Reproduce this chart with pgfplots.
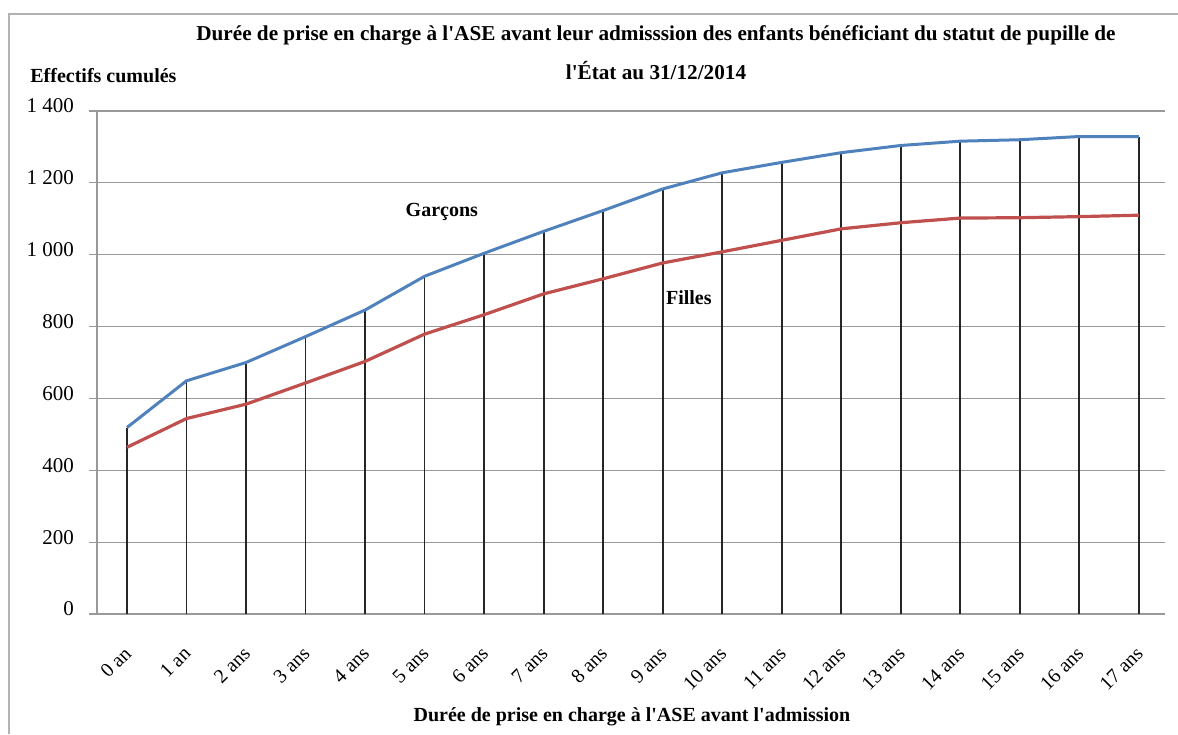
\documentclass[border=0pt]{standalone}
\usepackage{fontspec}
\setmainfont{Liberation Serif}[Ligatures=TeXOff]
\usepackage{pgfplots}
\pgfplotsset{compat=1.18}
\definecolor{gblue}{HTML}{4F81BD}
\definecolor{fred}{HTML}{C0504D}
\begin{document}
\begin{tikzpicture}[x=0.5pt,y=0.5pt]
\useasboundingbox (0,0) rectangle (1178,734);
\draw[gray!60, line width=0.75pt] (9,0) -- (9,720) -- (1178,720);
\node[font=\bfseries\fontsize{10.6}{12}\selectfont, anchor=base] at (656,734-41) {Durée de prise en charge à l'ASE avant leur admisssion des enfants bénéficiant du statut de pupille de};
\node[font=\bfseries\fontsize{10.6}{12}\selectfont, anchor=base] at (656,734-80) {l'État au 31/12/2014};
\node[font=\bfseries\fontsize{10}{12}\selectfont, anchor=base west, inner sep=0pt] at (30,734-83) {Effectifs cumulés};
\node[font=\bfseries\fontsize{10}{12}\selectfont, anchor=base] at (632,734-721) {Durée de prise en charge à l'ASE avant l'admission};
\begin{axis}[
  at={(48.5pt,60pt)}, anchor=south west,
  scale only axis, width=534pt, height=251.5pt,
  xmin=-0.504, xmax=17.44, ymin=0, ymax=1400,
  axis lines*=left,
  axis line style={gray!80, line width=0.6pt},
  ymajorgrids, grid style={gray!80, line width=0.6pt},
  ytick={0,200,400,600,800,1000,1200,1400},
  yticklabels={0,200,400,600,800,1 000,1 200,1 400},
  tick align=outside, major tick length=4pt,
  ytick style={gray!80, line width=0.6pt},
  xtick={0,...,17},
  xticklabels={0 an,1 an,2 ans,3 ans,4 ans,5 ans,6 ans,7 ans,8 ans,9 ans,10 ans,11 ans,12 ans,13 ans,14 ans,15 ans,16 ans,17 ans},
  xtick style={draw=none},
  ticklabel style={font=\fontsize{10}{12}\selectfont},
  yticklabel style={xshift=-4pt, yshift=2.5pt, font=\fontsize{10.5}{12}\selectfont},
  xticklabel style={xshift=0.5pt, yshift=-14pt, rotate=45, anchor=east, inner sep=0pt},
  clip=false,
]
\addplot[ycomb, black!85, line width=0.9pt, no marks] coordinates {
(0,519) (1,649) (2,700) (3,772) (4,846) (5,940) (6,1004) (7,1065) (8,1123) (9,1183) (10,1228) (11,1257) (12,1284) (13,1304) (14,1316) (15,1320) (16,1329) (17,1329)};
\addplot[gblue, line width=1.5pt, no marks] coordinates {
(0,519) (1,649) (2,700) (3,772) (4,846) (5,940) (6,1004) (7,1065) (8,1123) (9,1183) (10,1228) (11,1257) (12,1284) (13,1304) (14,1316) (15,1320) (16,1329) (17,1329)};
\addplot[fred, line width=1.6pt, no marks] coordinates {
(0,464) (1,544) (2,584) (3,643) (4,703) (5,779) (6,833) (7,891) (8,933) (9,977) (10,1008) (11,1040) (12,1072) (13,1089) (14,1102) (15,1103) (16,1106) (17,1110)};
\node[font=\bfseries\fontsize{10}{12}\selectfont] at (axis cs:5.29,1119) {Garçons};
\node[font=\bfseries\fontsize{10}{12}\selectfont] at (axis cs:9.44,880) {Filles};
\end{axis}
\end{tikzpicture}
\end{document}
